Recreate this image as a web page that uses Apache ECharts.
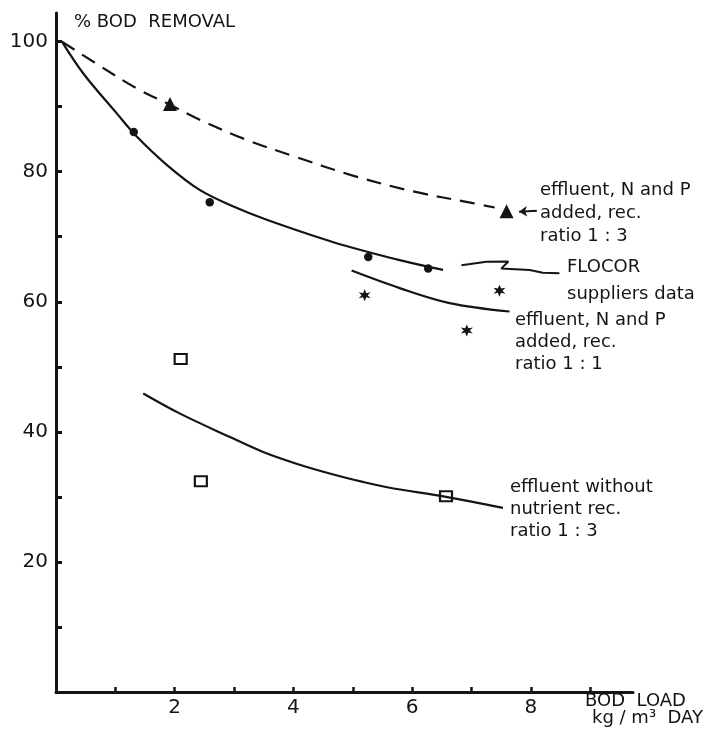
<!DOCTYPE html>
<html>
<head>
<meta charset="utf-8">
<script src="https://cdn.jsdelivr.net/npm/echarts@6/dist/echarts.min.js"></script>
<style>
  html, body { margin: 0; padding: 0; background: #fff; }
  #chart { width: 716px; height: 739px; }
</style>
</head>
<body>
<div id="chart"></div>
<script>
// 读图得到的数据 (BOD load kg/m3 day, % BOD removal)
var xTickValues = [1, 2, 3, 4, 5, 6, 7, 8, 9];
var xLabelValues = [2, 4, 6, 8];
var yTickValues = [10, 20, 30, 40, 50, 60, 70, 80, 90, 100];
var yLabelValues = [20, 40, 60, 80, 100];

// effluent, N and P added, rec. ratio 1:3
var triPoints = [[1.92, 90.4], [7.59, 73.9]];
var dashedCurve = [[0.1, 100], [0.63, 96.9], [1.36, 92.8], [1.92, 90.3], [2.42, 88.0], [3.21, 84.9], [4, 82.4], [5, 79.4], [6, 77.0], [7, 75.2], [7.39, 74.5]];

// FLOCOR suppliers data
var dotPoints = [[1.31, 86.1], [2.59, 75.3], [5.26, 66.9], [6.27, 65.1]];
var flocorCurve = [[0.1, 100], [0.46, 95.1], [1.02, 89.0], [1.36, 85.4], [1.86, 81.1], [2.42, 77.2], [3.0, 74.6], [3.55, 72.6], [4.66, 69.2], [5.79, 66.4], [6.52, 64.9]];

// effluent, N and P added, rec. ratio 1:1
var starPoints = [[5.2, 61.0], [6.92, 55.6], [7.47, 61.7]];
var ratio11Curve = [[4.98, 64.8], [5.79, 62.1], [6.63, 59.8], [7.64, 58.5]];

// effluent without nutrient, rec. ratio 1:3
var squarePoints = [[2.1, 51.2], [2.44, 32.4], [6.57, 30.1]];
var noNutrCurve = [[1.47, 45.9], [2.09, 42.8], [2.93, 39.2], [3.49, 36.9], [4.05, 35.1], [4.61, 33.6], [5.17, 32.3], [5.62, 31.4], [6.57, 30.0], [7.53, 28.3]];

// 标注引线
var flocorLeader = [[6.83, 65.6], [7.25, 66.15], [7.62, 66.2], [7.5, 65.1], [7.98, 64.9], [8.2, 64.45], [8.48, 64.37]];
var triArrow = [[8.1, 74.0], [7.8, 73.85]];

var ink = '#141414';
var font = 'DejaVu Sans';

var myChart = echarts.init(document.getElementById('chart'));

function txt(left, top, text, size, lh) {
    return {
        type: 'text',
        left: left,
        top: top,
        style: {
            text: text,
            fontSize: size,
            fontFamily: font,
            fill: ink,
            lineHeight: lh
        }
    };
}

function curve(name, data, dash) {
    return {
        name: name,
        type: 'line',
        data: data,
        smooth: 0.35,
        symbol: 'none',
        lineStyle: { color: ink, width: 2.2, type: dash || 'solid' }
    };
}

myChart.setOption({
    backgroundColor: '#fff',
    animation: false,
    grid: { left: 56, right: 83, top: 13, bottom: 47 },
    xAxis: {
        type: 'value',
        min: 0,
        max: 9.72,
        splitLine: { show: false },
        axisLine: { lineStyle: { color: ink, width: 3 } },
        axisTick: {
            inside: true,
            length: 5,
            customValues: xTickValues,
            lineStyle: { color: ink, width: 2.5 }
        },
        axisLabel: {
            customValues: xLabelValues,
            margin: 6,
            fontSize: 20,
            fontFamily: font,
            color: ink
        }
    },
    yAxis: {
        type: 'value',
        min: 0,
        max: 104.4,
        splitLine: { show: false },
        axisLine: { lineStyle: { color: ink, width: 3 } },
        axisTick: {
            inside: true,
            length: 6,
            customValues: yTickValues,
            lineStyle: { color: ink, width: 3 }
        },
        axisLabel: {
            customValues: yLabelValues,
            margin: 8,
            fontSize: 20,
            fontFamily: font,
            color: ink
        }
    },
    graphic: [
        txt(74, 12, '% BOD  REMOVAL', 18, 20),
        txt(540, 179, 'effluent, N and P\nadded, rec.\nratio 1 : 3', 18, 23),
        txt(567, 254, 'FLOCOR\nsuppliers data', 18, 27),
        txt(515, 309, 'effluent, N and P\nadded, rec.\nratio 1 : 1', 18, 22),
        txt(510, 476, 'effluent without\nnutrient rec.\nratio 1 : 3', 18, 22),
        txt(585, 692, 'BOD  LOAD', 18, 18),
        txt(592, 709, 'kg / m³  DAY', 18, 18)
    ],
    series: [
        curve('ratio 1:3 curve', dashedCurve, [15, 9]),
        curve('FLOCOR curve', flocorCurve),
        curve('ratio 1:1 curve', ratio11Curve),
        curve('no nutrient curve', noNutrCurve),
        {
            name: 'FLOCOR leader',
            type: 'line',
            data: flocorLeader,
            symbol: 'none',
            lineStyle: { color: ink, width: 2 }
        },
        {
            name: 'arrow',
            type: 'lines',
            coordinateSystem: 'cartesian2d',
            symbol: ['none', 'arrow'],
            symbolSize: 8,
            lineStyle: { color: ink, width: 2, opacity: 1 },
            data: [{ coords: triArrow }]
        },
        {
            name: 'triangles',
            type: 'scatter',
            data: triPoints,
            symbol: 'triangle',
            symbolSize: 14,
            itemStyle: { color: ink, opacity: 1 }
        },
        {
            name: 'dots',
            type: 'scatter',
            data: dotPoints,
            symbol: 'circle',
            symbolSize: 8.5,
            itemStyle: { color: ink, opacity: 1 }
        },
        {
            name: 'stars',
            type: 'scatter',
            data: starPoints,
            symbol: 'path://M0,-10 L2.5,-3.5 L9,-5 L4.5,0 L9,5 L2.5,3.5 L0,10 L-2.5,3.5 L-9,5 L-4.5,0 L-9,-5 L-2.5,-3.5 Z',
            symbolSize: 12,
            itemStyle: { color: ink, opacity: 1 }
        },
        {
            name: 'squares',
            type: 'scatter',
            data: squarePoints,
            symbol: 'rect',
            symbolSize: [12, 10],
            itemStyle: { color: '#fff', borderColor: ink, borderWidth: 2, opacity: 1 }
        }
    ]
});
</script>
</body>
</html>
